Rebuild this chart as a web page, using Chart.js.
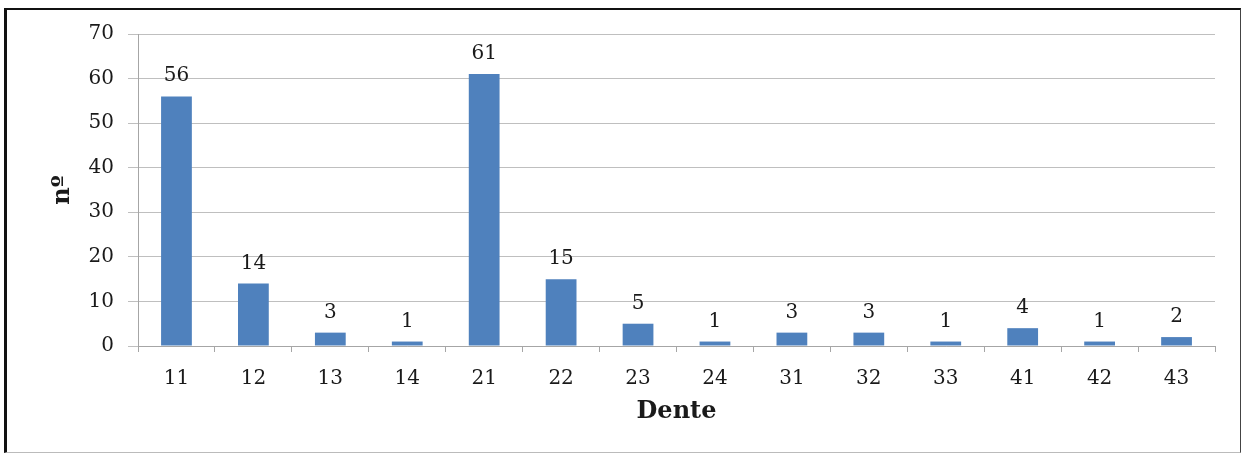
<!DOCTYPE html>
<html>
<head>
<meta charset="utf-8">
<script src="https://cdn.jsdelivr.net/npm/chart.js@4/dist/chart.umd.min.js"></script>
<style>
  html, body { margin: 0; padding: 0; background: #fff; }
  #wrap { position: relative; width: 1244px; height: 454px; }
  #frame {
    position: absolute; left: 4px; top: 8px; width: 1237px; height: 445px;
    border-top: 2px solid #111; border-left: 3px solid #111;
    border-right: 1px solid #444; border-bottom: 1px solid #bbb;
    box-sizing: border-box; pointer-events: none;
  }
</style>
</head>
<body>
<div id="wrap">
  <canvas id="chart" width="1244" height="454"></canvas>
  <div id="frame"></div>
</div>
<script>
// Teeth (x axis) and counts
const teeth = ['11', '12', '13', '14', '21', '22', '23', '24', '31', '32', '33', '41', '42', '43'];
const counts = [56, 14, 3, 1, 61, 15, 5, 1, 3, 3, 1, 4, 1, 2];
const yTicks = [0, 10, 20, 30, 40, 50, 60, 70];

const serif = "'DejaVu Serif', 'Liberation Serif', serif";

// value labels above each bar
const barLabels = {
    id: 'barLabels',
    afterDatasetsDraw(chart) {
        const ctx = chart.ctx;
        const meta = chart.getDatasetMeta(0);
        ctx.save();
        ctx.font = '20px ' + serif;
        ctx.fillStyle = '#1a1a1a';
        ctx.textAlign = 'center';
        ctx.textBaseline = 'alphabetic';
        meta.data.forEach((bar, i) => {
            ctx.fillText(String(counts[i]), bar.x, bar.y - 15);
        });
        ctx.restore();
    }
};

new Chart(document.getElementById('chart'), {
    type: 'bar',
    data: {
        labels: teeth,
        datasets: [{
            data: counts,
            backgroundColor: '#4F81BD',
            borderWidth: 0,
            barPercentage: 0.4,
            categoryPercentage: 1.0
        }]
    },
    options: {
        responsive: false,
        animation: false,
        layout: { padding: { top: 34, right: 29, left: 0, bottom: 0 } },
        plugins: { legend: { display: false }, tooltip: { enabled: false } },
        scales: {
            x: {
                afterFit(scale) { scale.height = 108; },
                grid: { display: true, offset: true, drawOnChartArea: false, drawTicks: true, tickLength: 6, color: '#A6A6A6' },
                border: { color: '#A6A6A6', width: 1 },
                ticks: { color: '#1a1a1a', font: { family: serif, size: 20 }, padding: 15, maxRotation: 0 },
                title: { display: true, text: 'Dente', color: '#1a1a1a', font: { family: serif, size: 24, weight: 'bold' }, padding: { top: 0, bottom: 28 } }
            },
            y: {
                min: 0,
                max: 70,
                afterFit(scale) { scale.width = 138; },
                afterBuildTicks(scale) { scale.ticks = yTicks.map(v => ({ value: v })); },
                grid: { color: '#BFBFBF', lineWidth: 1, tickLength: 10, drawTicks: true },
                border: { color: '#A6A6A6', width: 1 },
                ticks: { color: '#1a1a1a', font: { family: serif, size: 20 }, padding: 14 },
                title: { display: true, text: 'nº', color: '#1a1a1a', font: { family: serif, size: 24, weight: 'bold' }, padding: { top: 48, bottom: 0 } }
            }
        }
    },
    plugins: [barLabels]
});
</script>
</body>
</html>
